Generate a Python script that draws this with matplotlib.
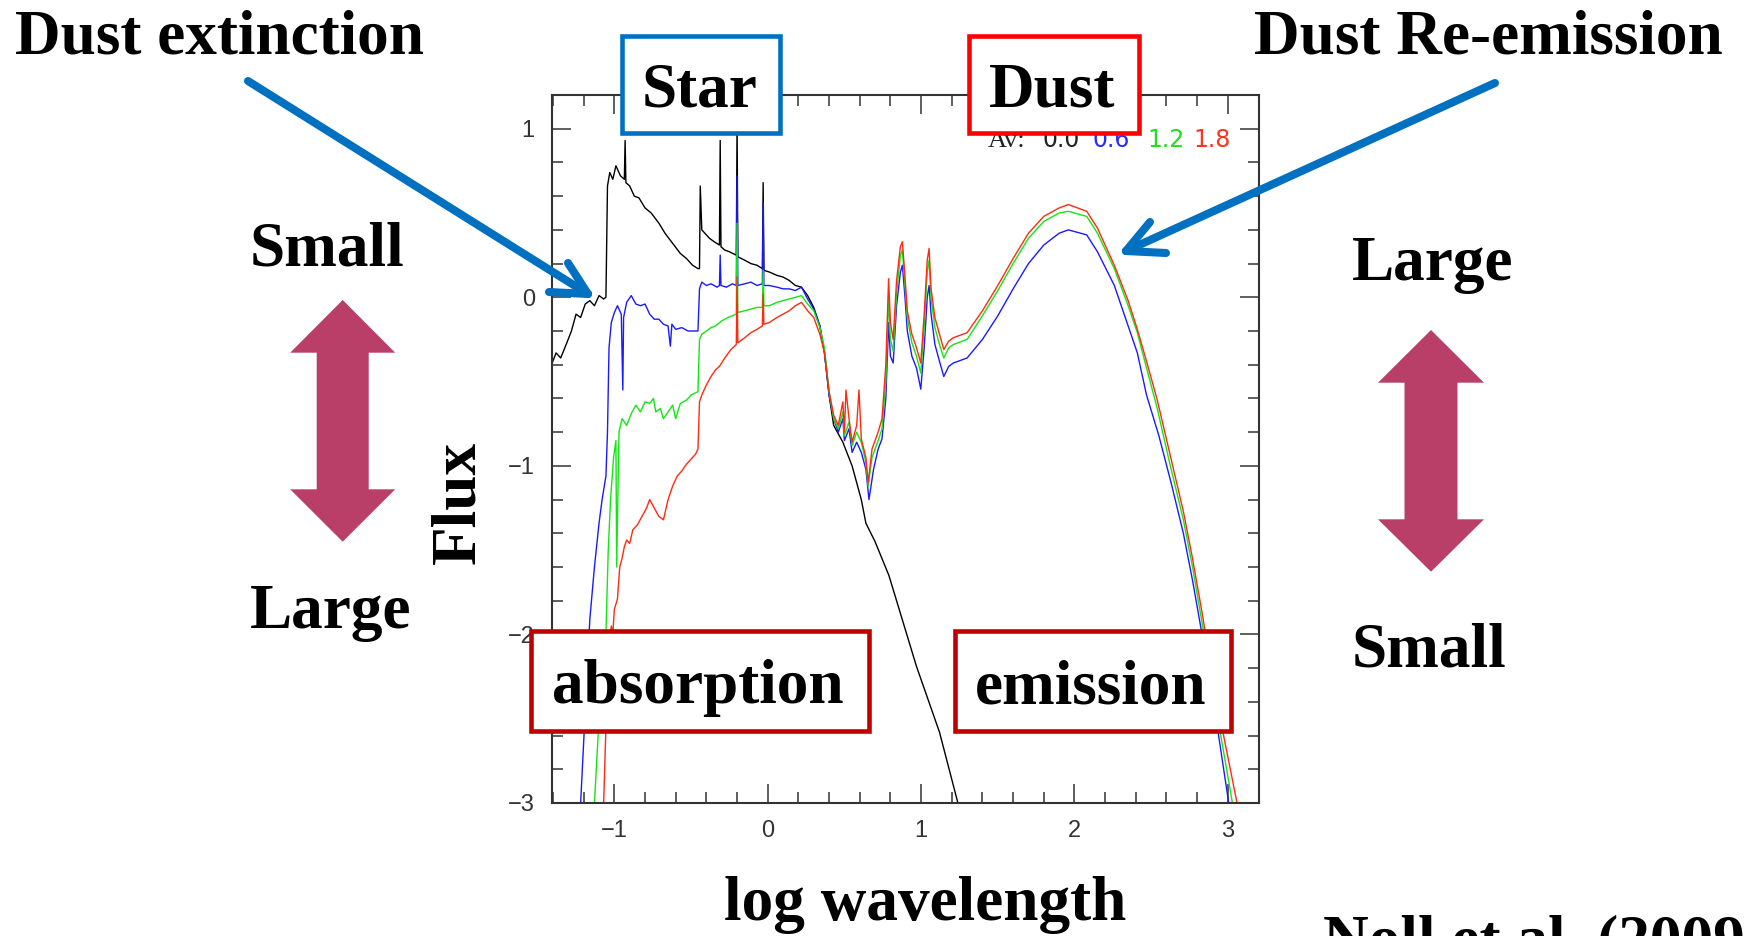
import matplotlib
matplotlib.use("Agg")
import matplotlib.pyplot as plt
from matplotlib.patches import Rectangle, Polygon
from matplotlib.lines import Line2D
from matplotlib.ticker import MultipleLocator

W, H = 1744, 936
SERIF = "Liberation Serif"
BIG = 45.5
BLUE_ARROW, PINK = "#0070C0", "#B93F68"

# --- spectra (log wavelength, log flux) ---
av00_x = [-1.41, -1.38, -1.35, -1.31, -1.28, -1.25, -1.22, -1.19, -1.16, -1.13, -1.10, -1.07, -1.055,
          -1.045, -1.03, -1.01, -0.99, -0.96, -0.935, -0.93, -0.925, -0.90, -0.87, -0.84, -0.80, -0.76,
          -0.71, -0.67, -0.62, -0.57, -0.53, -0.49, -0.455, -0.445, -0.44, -0.43, -0.41, -0.38, -0.35,
          -0.315, -0.31, -0.305, -0.28, -0.25, -0.205, -0.20, -0.195, -0.15, -0.11, -0.07, -0.035, -0.03,
          -0.025, 0.01, 0.06, 0.10, 0.14, 0.18, 0.22, 0.26, 0.30, 0.34, 0.37, 0.40, 0.43, 0.49, 0.55,
          0.61, 0.64, 0.70, 0.79, 0.97, 1.12, 1.24]
av00_y = [-0.40, -0.33, -0.36, -0.27, -0.20, -0.10, -0.12, -0.04, -0.02, -0.05, 0.01, -0.01, 0.0,
          0.66, 0.74, 0.70, 0.78, 0.72, 0.70, 0.93, 0.68, 0.66, 0.60, 0.59, 0.53, 0.50,
          0.44, 0.38, 0.32, 0.26, 0.23, 0.19, 0.17, 0.17, 0.66, 0.40, 0.38, 0.35, 0.33,
          0.31, 0.93, 0.30, 0.28, 0.27, 0.25, 1.05, 0.24, 0.22, 0.20, 0.19, 0.17, 0.68,
          0.16, 0.15, 0.13, 0.12, 0.10, 0.07, 0.06, 0.01, -0.06, -0.17, -0.33, -0.58, -0.76, -0.86, -1.0,
          -1.20, -1.34, -1.45, -1.65, -2.19, -2.58, -3.0]

av06_x = [-1.22, -1.19, -1.16, -1.13, -1.10, -1.08, -1.055, -1.045, -1.035, -1.02, -1.00, -0.98, -0.955,
          -0.945, -0.94, -0.92, -0.89, -0.86, -0.83, -0.80, -0.77, -0.74, -0.71, -0.68, -0.65, -0.635,
          -0.625, -0.60, -0.56, -0.52, -0.48, -0.455, -0.445, -0.43, -0.40, -0.37, -0.33, -0.315, -0.31,
          -0.305, -0.27, -0.23, -0.205, -0.20, -0.195, -0.15, -0.11, -0.07, -0.035, -0.03, -0.025, 0.01,
          0.06, 0.10, 0.14, 0.18, 0.22, 0.26, 0.30, 0.34, 0.37, 0.40, 0.43, 0.46, 0.49, 0.50, 0.53, 0.55,
          0.58, 0.61, 0.64, 0.66, 0.69, 0.72, 0.745, 0.77, 0.788, 0.80, 0.818, 0.84, 0.865, 0.878, 0.895,
          0.91, 0.94, 0.97, 0.998, 1.02, 1.04, 1.052, 1.065, 1.09, 1.12, 1.148, 1.18, 1.21, 1.30, 1.40,
          1.50, 1.60, 1.70, 1.80, 1.90, 1.96, 2.08, 2.15, 2.26, 2.35, 2.41, 2.47, 2.55, 2.63, 2.71, 2.77,
          2.83, 2.92, 3.006]
av06_y = [-3.0, -2.45, -1.91, -1.60, -1.34, -1.20, -1.06, -0.80, -0.30, -0.15, -0.09, -0.05, -0.10,
          -0.55, -0.12, -0.03, 0.01, -0.04, -0.05, -0.04, -0.10, -0.13, -0.13, -0.16, -0.17, -0.29,
          -0.16, -0.19, -0.18, -0.20, -0.20, -0.20, 0.05, 0.09, 0.07, 0.08, 0.06, 0.07, 0.25,
          0.07, 0.06, 0.08, 0.07, 0.72, 0.07, 0.08, 0.09, 0.07, 0.08, 0.56, 0.07, 0.07,
          0.06, 0.05, 0.05, 0.04, 0.06, -0.01, -0.07, -0.17, -0.33, -0.58, -0.72, -0.80, -0.72, -0.85, -0.78, -0.92,
          -0.86, -0.92, -1.02, -1.20, -1.02, -0.90, -0.84, -0.60, -0.15, -0.35, -0.39, -0.05, 0.15, 0.19, 0.0,
          -0.20, -0.35, -0.42, -0.545, -0.30, 0.0, 0.07, -0.10, -0.28, -0.38, -0.47, -0.41, -0.39, -0.36, -0.25,
          -0.11, 0.05, 0.20, 0.31, 0.38, 0.40, 0.37, 0.27, 0.07, -0.17, -0.33, -0.58, -0.82, -1.10, -1.40, -1.68,
          -1.99, -2.48, -3.0]

av12_x = [-1.13, -1.10, -1.075, -1.055, -1.04, -1.025, -1.005, -0.99, -0.985, -0.97, -0.95, -0.92, -0.89,
          -0.86, -0.83, -0.80, -0.77, -0.745, -0.73, -0.70, -0.68, -0.65, -0.62, -0.60, -0.57, -0.53,
          -0.50, -0.455, -0.445, -0.43, -0.40, -0.37, -0.34, -0.30, -0.26, -0.205, -0.20, -0.195, -0.15,
          -0.11, -0.07, -0.035, -0.03, -0.025, 0.01, 0.06, 0.10, 0.14, 0.18, 0.22, 0.26, 0.30, 0.34, 0.37,
          0.40, 0.43, 0.46, 0.49, 0.50, 0.53, 0.55, 0.58, 0.61, 0.64, 0.655, 0.68, 0.72, 0.745, 0.77, 0.788,
          0.80, 0.818, 0.84, 0.865, 0.878, 0.895, 0.91, 0.94, 0.97, 0.998, 1.02, 1.04, 1.052, 1.065, 1.09,
          1.12, 1.148, 1.18, 1.21, 1.30, 1.40, 1.50, 1.60, 1.70, 1.80, 1.90, 1.96, 2.08, 2.15, 2.26, 2.35,
          2.41, 2.47, 2.54, 2.62, 2.71, 2.77, 2.83, 2.92, 3.03]
av12_y = [-3.0, -2.50, -2.15, -1.99, -1.50, -1.20, -0.95, -0.85, -1.60, -0.80, -0.72, -0.76, -0.69,
          -0.64, -0.68, -0.62, -0.63, -0.60, -0.68, -0.66, -0.72, -0.68, -0.64, -0.72, -0.63, -0.61,
          -0.58, -0.56, -0.25, -0.22, -0.20, -0.18, -0.17, -0.14, -0.12, -0.10, 0.44, -0.09, -0.08,
          -0.07, -0.06, -0.06, 0.16, -0.05, -0.05, -0.03, -0.02, -0.01, 0.0, 0.01, -0.04, -0.08, -0.18, -0.30,
          -0.56, -0.72, -0.78, -0.68, -0.82, -0.74, -0.88, -0.80, -0.86, -0.98, -1.12, -0.95, -0.85, -0.78, -0.50, 0.0,
          -0.25, -0.32, 0.02, 0.25, 0.28, 0.07, -0.12, -0.27, -0.35, -0.45, -0.18, 0.15, 0.22, 0.0, -0.18,
          -0.28, -0.36, -0.30, -0.28, -0.25, -0.11, 0.04, 0.20, 0.35, 0.45, 0.50, 0.51, 0.48, 0.38, 0.17, -0.05,
          -0.21, -0.42, -0.66, -0.98, -1.32, -1.60, -1.92, -2.42, -3.0]

av18_x = [-1.07, -1.055, -1.04, -1.02, -1.01, -1.0, -0.98, -0.965, -0.95, -0.935, -0.92, -0.90, -0.88,
          -0.85, -0.82, -0.79, -0.77, -0.74, -0.71, -0.68, -0.65, -0.62, -0.59, -0.56, -0.53, -0.50,
          -0.47, -0.455, -0.445, -0.43, -0.40, -0.37, -0.34, -0.315, -0.28, -0.24, -0.205, -0.20, -0.195,
          -0.15, -0.11, -0.07, -0.035, -0.03, -0.025, 0.01, 0.06, 0.10, 0.14, 0.18, 0.22, 0.26, 0.30, 0.34,
          0.37, 0.40, 0.43, 0.46, 0.49, 0.50, 0.51, 0.53, 0.55, 0.58, 0.595, 0.61, 0.64, 0.655, 0.68, 0.72,
          0.745, 0.77, 0.788, 0.80, 0.818, 0.84, 0.865, 0.878, 0.895, 0.91, 0.94, 0.97, 0.998, 1.02, 1.04,
          1.052, 1.065, 1.09, 1.12, 1.148, 1.18, 1.21, 1.30, 1.40, 1.50, 1.60, 1.70, 1.80, 1.90, 1.96, 2.08,
          2.15, 2.26, 2.35, 2.41, 2.47, 2.54, 2.62, 2.71, 2.77, 2.83, 2.92, 3.06]
av18_y = [-3.0, -2.55, -2.10, -1.95, -1.99, -1.85, -1.79, -1.60, -1.55, -1.48, -1.44, -1.46, -1.38,
          -1.35, -1.30, -1.25, -1.20, -1.25, -1.30, -1.32, -1.20, -1.12, -1.06, -1.03, -0.99, -0.96,
          -0.93, -0.90, -0.62, -0.58, -0.52, -0.47, -0.43, -0.41, -0.36, -0.31, -0.28, 0.12, -0.27,
          -0.24, -0.21, -0.19, -0.17, 0.02, -0.16, -0.15, -0.12, -0.10, -0.08, -0.05, -0.03, -0.08, -0.12, -0.22,
          -0.33, -0.56, -0.70, -0.76, -0.62, -0.80, -0.55, -0.72, -0.86, -0.76, -0.55, -0.84, -0.95, -1.10, -0.90, -0.80,
          -0.72, -0.40, 0.11, -0.15, -0.25, 0.10, 0.30, 0.33, 0.12, -0.08, -0.22, -0.30, -0.39, -0.10, 0.22,
          0.29, 0.05, -0.12, -0.22, -0.31, -0.26, -0.24, -0.21, -0.08, 0.07, 0.23, 0.38, 0.48, 0.53, 0.55, 0.51,
          0.41, 0.19, -0.02, -0.19, -0.38, -0.61, -0.92, -1.27, -1.55, -1.86, -2.36, -3.0]

series = [(av00_x, av00_y, "black"), (av06_x, av06_y, "#1a1aff"),
          (av12_x, av12_y, "#14e614"), (av18_x, av18_y, "#ff2a10")]
legend_labels = ["0.0", "0.6", "1.2", "1.8"]
legend_colors = ["#222222", "#2a2aff", "#22dd22", "#ff3322"]


def fx(x):
    return x / W


def fy(y):
    return 1 - y / H


fig = plt.figure(figsize=(W / 100, H / 100), dpi=100)
ax = fig.add_axes([fx(551.5), fy(803), (1258.5 - 551.5) / W, (803 - 95) / H])
for xs, ys, c in series:
    ax.plot(xs, ys, color=c, lw=1.0)
ax.set_xlim(-1.41, 3.2)
ax.set_ylim(-3, 1.2)
ax.xaxis.set_major_locator(MultipleLocator(1))
ax.yaxis.set_major_locator(MultipleLocator(1))
ax.xaxis.set_minor_locator(MultipleLocator(0.2))
ax.yaxis.set_minor_locator(MultipleLocator(0.2))
ax.tick_params(which="both", direction="in", top=True, right=True, width=1.1, color="#333")
ax.tick_params(which="major", length=14, labelsize=17, pad=12, labelcolor="#333")
ax.tick_params(which="minor", length=8)
for lab in ax.get_xticklabels() + ax.get_yticklabels():
    lab.set_family("Liberation Sans")
for s in ax.spines.values():
    s.set_linewidth(1.5)
    s.set_color("#333")

# legend inside the frame
fig.text(fx(988), fy(146.7), "Av:", fontsize=19, family=SERIF, color="#222", va="baseline", zorder=2)
for xp, lab, c in zip([1042, 1093, 1147, 1193], legend_labels, legend_colors):
    fig.text(fx(xp), fy(146.7), lab, fontsize=17, color=c, va="baseline", zorder=2)


def big(x, y, s, ha="left", **kw):
    fig.text(fx(x), fy(y), s, ha=ha, va="baseline", fontsize=BIG, fontweight="bold",
             family=SERIF, zorder=7, **kw)


def box(x0, y0, x1, y1, ec):
    fig.add_artist(Rectangle((fx(x0), fy(y1)), (x1 - x0) / W, (y1 - y0) / H, transform=fig.transFigure,
                             facecolor="white", edgecolor=ec, lw=3.3, zorder=5))


box(621.7, 35.6, 779.7, 133.3, BLUE_ARROW)
box(969.3, 35.6, 1139, 133, "#FF0000")
box(530.5, 630.7, 868.7, 731, "#C00000")
box(954.6, 630.7, 1231, 731, "#C00000")
big(700, 106.7, "Star", ha="center")
big(1052, 106.7, "Dust", ha="center")
big(698, 703, "absorption", ha="center")
big(1091, 703, "emission", ha="center")

big(14.5, 53.3, "Dust extinction")
big(1253.7, 53.3, "Dust Re-emission")
big(250, 265, "Small")
big(250, 628, "Large")
big(1351.7, 280, "Large")
big(1351.7, 666.7, "Small")
big(925.5, 920, "log wavelength", ha="center")
big(1323, 958, "Noll et al. (2009)")
fig.text(fx(459), fy(502), "Flux", rotation=90, ha="center", va="center", fontsize=BIG,
         fontweight="bold", family=SERIF)


def double_arrow(cx, top, hb_top, hb_bot, bot, hw, sw):
    pts = [(cx, top), (cx + hw, hb_top), (cx + sw, hb_top), (cx + sw, hb_bot), (cx + hw, hb_bot),
           (cx, bot), (cx - hw, hb_bot), (cx - sw, hb_bot), (cx - sw, hb_top), (cx - hw, hb_top)]
    fig.add_artist(Polygon([(fx(a), fy(b)) for a, b in pts], closed=True, transform=fig.transFigure,
                           facecolor=PINK, edgecolor="none", zorder=4))


double_arrow(342.7, 300, 352.7, 489.3, 541.7, 52.5, 26)
double_arrow(1431, 330, 382.7, 519.3, 571.7, 53, 26.5)


def pointer(start, tip, barb1, barb2):
    for a, b in [(start, tip), (barb1, tip), (barb2, tip)]:
        fig.add_artist(Line2D([fx(a[0]), fx(b[0])], [fy(a[1]), fy(b[1])], transform=fig.transFigure,
                              color=BLUE_ARROW, lw=5.8, solid_capstyle="round", zorder=6))


pointer((248, 81), (588, 294), (549, 292), (568, 263))
pointer((1495, 83), (1126, 251), (1150, 222), (1166, 253))

fig.savefig("out.png", dpi=100)
